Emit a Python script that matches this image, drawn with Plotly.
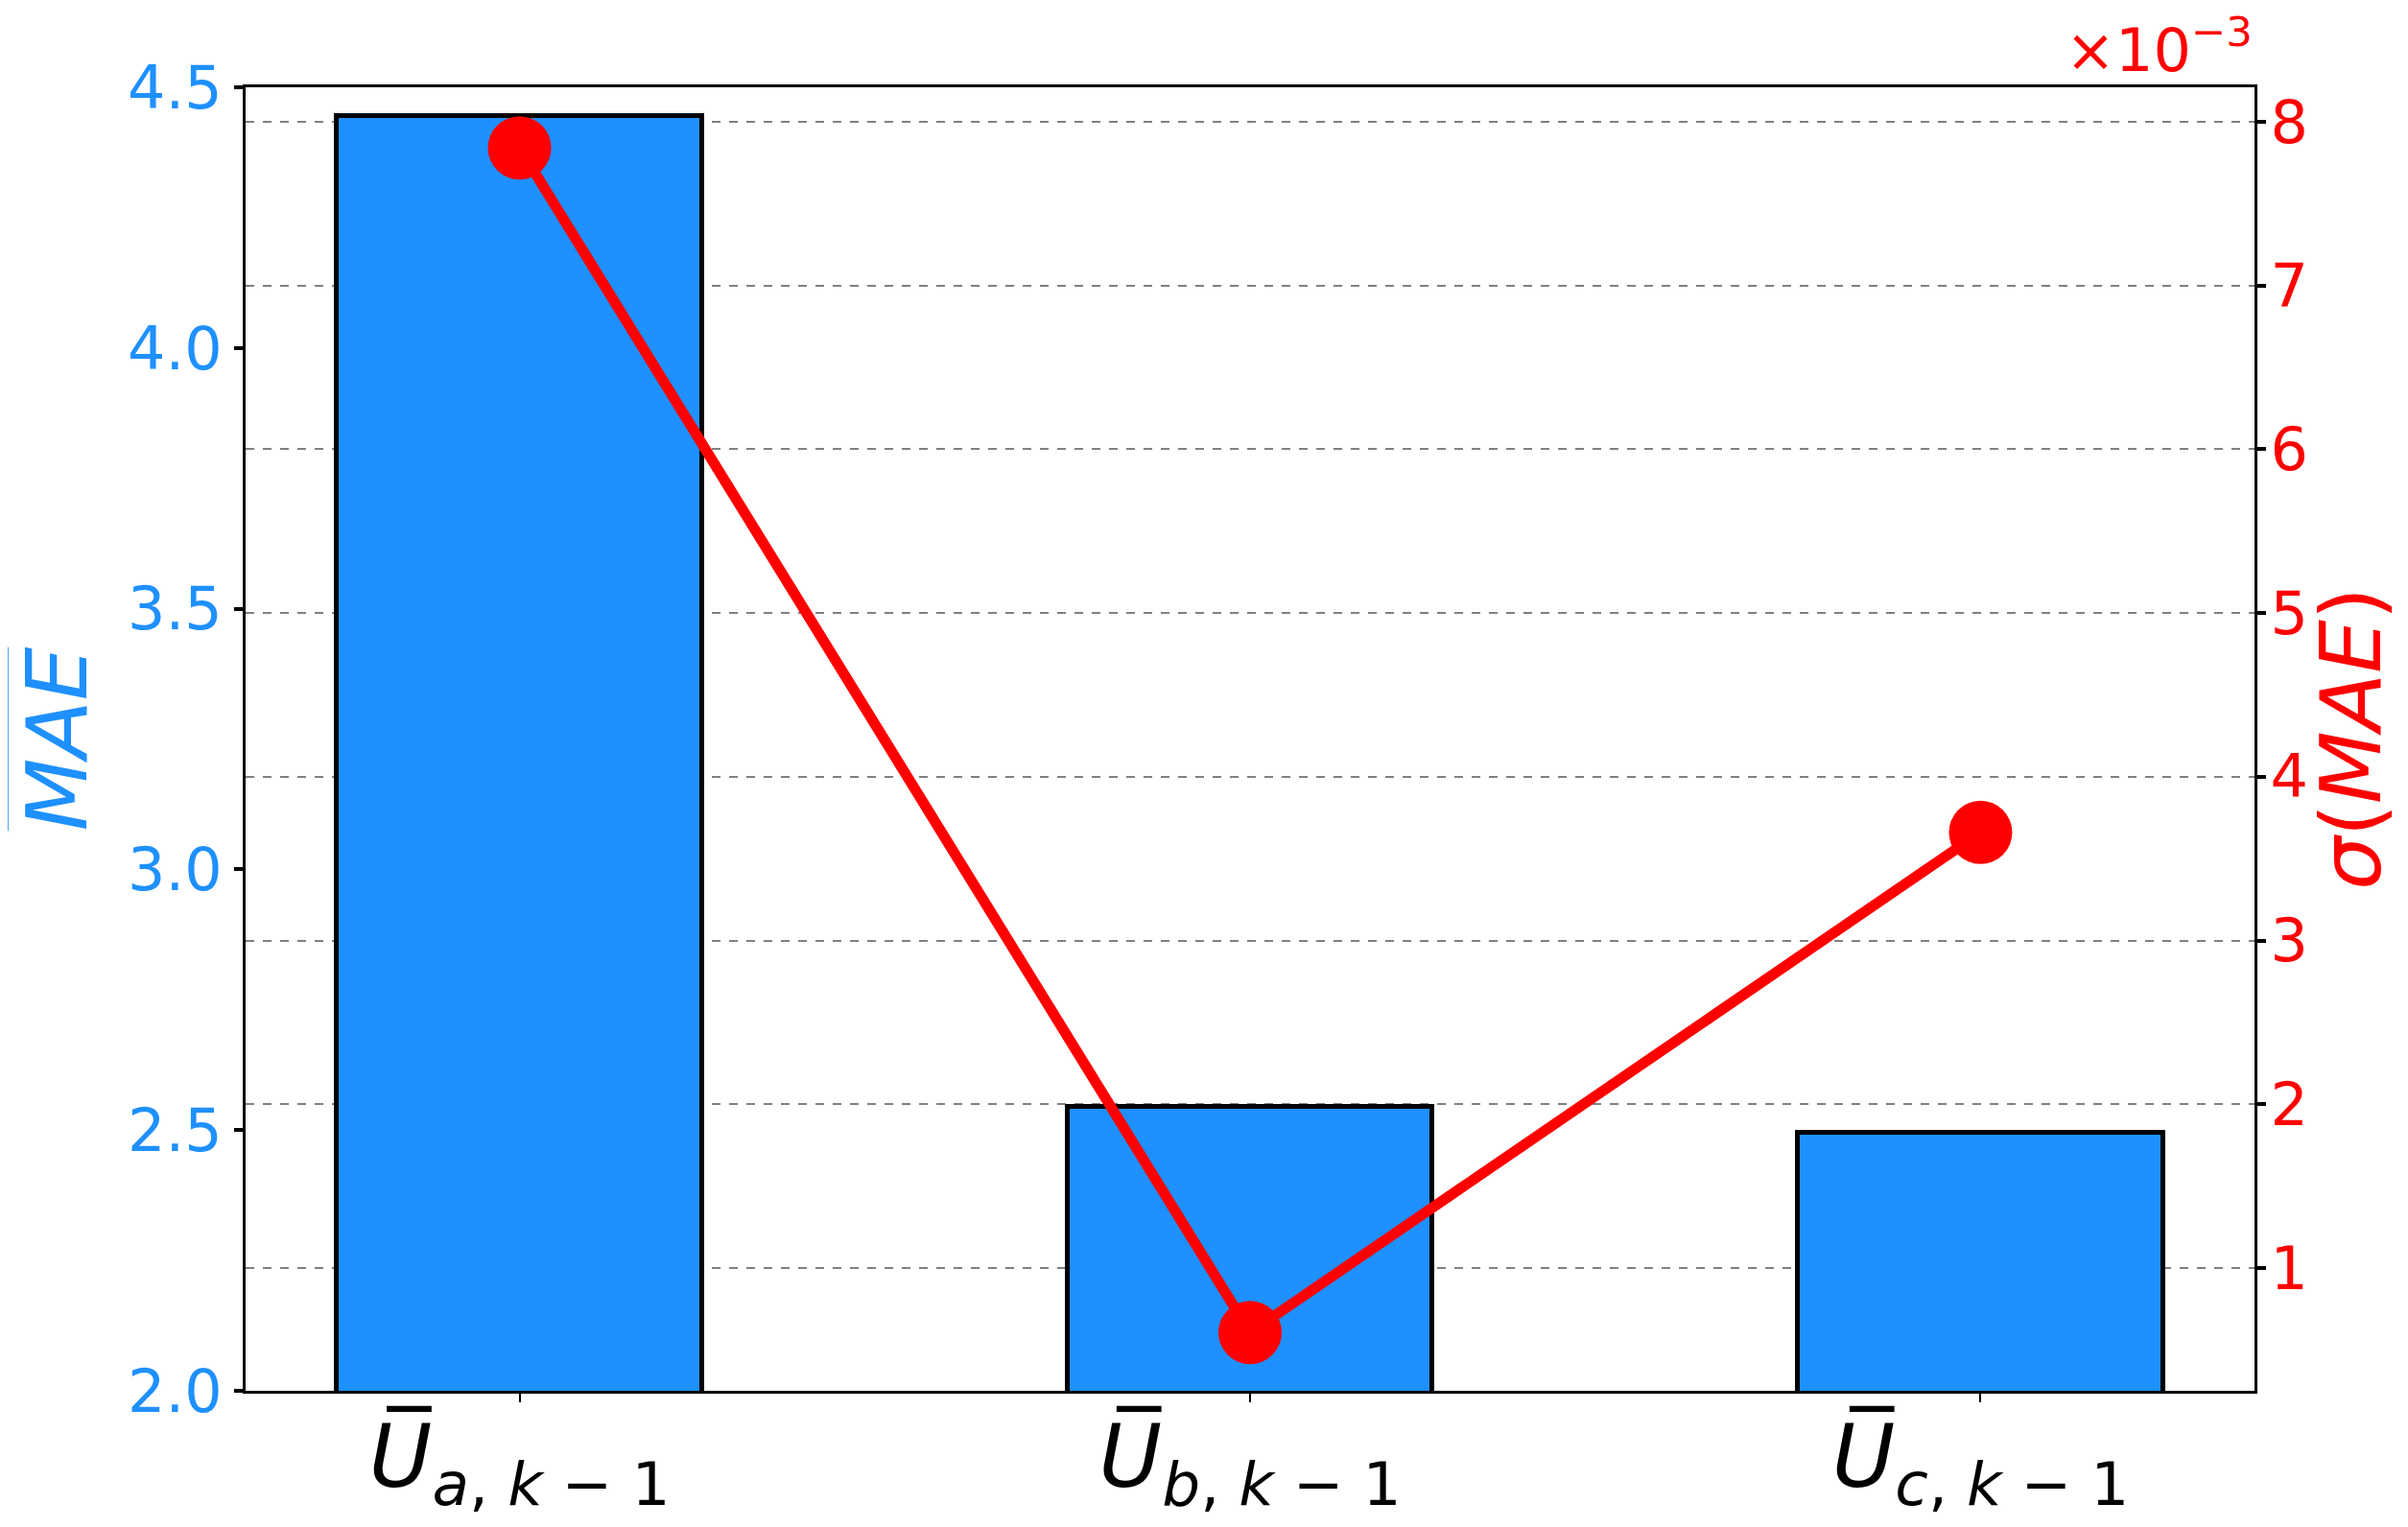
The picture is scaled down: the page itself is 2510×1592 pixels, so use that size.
import plotly.graph_objects as go

# data
categories = ['a', 'b', 'c']
mae_mean = [4.444, 2.544, 2.494]
mae_std = [7.84e-3, 0.606e-3, 3.66e-3]

x_pos = list(range(len(categories)))
x_labels = ['<i>U\u0305</i><sub><i>%s</i>, <i>k</i> \u2212 1</sub>' % c for c in categories]
left_ticks = [2.0, 2.5, 3.0, 3.5, 4.0, 4.5]
right_ticks = [1, 2, 3, 4, 5, 6, 7, 8]

BLUE = '#1E90FF'
RED = '#FF0000'
FONT = 'DejaVu Sans'

fig = go.Figure()
fig.add_trace(go.Bar(x=x_pos, y=mae_mean, width=0.5, base=0,
                     marker=dict(color=BLUE, line=dict(color='black', width=5)),
                     showlegend=False, yaxis='y'))
fig.add_trace(go.Scatter(x=x_pos, y=mae_std, mode='lines+markers',
                         line=dict(color=RED, width=11),
                         marker=dict(color=RED, size=66),
                         showlegend=False, yaxis='y2'))

fig.update_layout(
    width=2510, height=1592,
    margin=dict(l=248, r=168, t=83, b=150),
    paper_bgcolor='white', plot_bgcolor='white',
    font=dict(family=FONT, color='black'),
    bargap=0,
    xaxis=dict(range=[-0.375, 2.375], tickvals=x_pos, ticktext=x_labels,
               tickfont=dict(size=90, color='black'), ticklabelstandoff=-20,
               showline=True, linecolor='black', linewidth=3, mirror=True,
               ticks='outside', ticklen=9, tickwidth=2, tickcolor='black',
               showgrid=False, zeroline=False, automargin=False),
    yaxis=dict(range=[2.0, 4.5], tickvals=left_ticks,
               ticktext=['%.1f' % v for v in left_ticks],
               tickfont=dict(size=62, color=BLUE),
               title=dict(text='<span style="text-decoration:overline"><i>MAE</i></span>',
                          font=dict(size=88, color=BLUE), standoff=30),
               showline=True, linecolor='black', linewidth=3,
               ticks='outside', ticklen=9, tickwidth=4, tickcolor='black',
               showgrid=False, zeroline=False, automargin=False),
    yaxis2=dict(overlaying='y', side='right', range=[0.25e-3, 8.21e-3],
                tickvals=[v * 1e-3 for v in right_ticks],
                ticktext=[str(v) for v in right_ticks],
                tickfont=dict(size=62, color=RED), ticklabelstandoff=-8,
                showline=True, linecolor='black', linewidth=3,
                ticks='outside', ticklen=9, tickwidth=4, tickcolor='black',
                showgrid=True, gridcolor='#808080', gridwidth=1.5, griddash='dash',
                zeroline=False, automargin=False),
)

# right axis title placed by hand so it stays inside the page
fig.add_annotation(xref='paper', yref='paper', x=1.048, y=0.5,
                   xanchor='center', yanchor='middle', showarrow=False, textangle=-90,
                   text='<i>\u03c3</i>(<i>MAE</i>)',
                   font=dict(size=88, color=RED, family=FONT))

fig.add_annotation(xref='paper', yref='paper', x=1.0, y=1.0,
                   xanchor='right', yanchor='bottom', showarrow=False,
                   text='\u00d710<sup>\u22123</sup>',
                   font=dict(size=62, color=RED, family=FONT))

fig.write_html("out.html")
